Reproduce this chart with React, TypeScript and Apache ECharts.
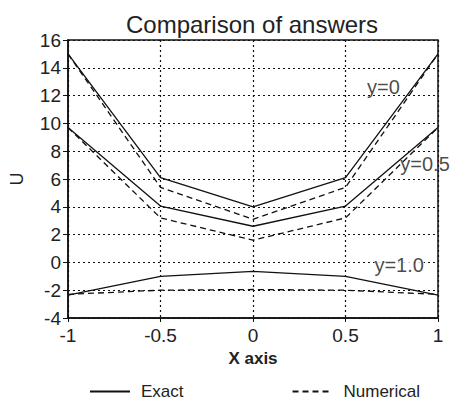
import React, { useEffect, useRef } from "react";
import * as echarts from "echarts";

const xValues = [-1, -0.5, 0, 0.5, 1];
const exactY0 = [15, 6.1, 4.0, 6.1, 15];
const numericalY0 = [15, 5.4, 3.1, 5.4, 15];
const exactY05 = [9.7, 4.05, 2.6, 4.05, 9.7];
const numericalY05 = [9.7, 3.2, 1.6, 3.2, 9.7];
const exactY1 = [-2.35, -1.0, -0.65, -1.0, -2.35];
const numericalY1 = [-2.3, -2.0, -1.95, -2.0, -2.3];

const curveLabels = ["y=0", "y=0.5", "y=1.0"];
const curveLabelPos = [
  [0.705, 12.6],
  [0.93, 7.1],
  [0.79, -0.2],
];

const FONT = "'Liberation Sans', Arial, sans-serif";

const pairs = (ys: number[]) => xValues.map((x, i) => [x, ys[i]]);

export default function App() {
  const ref = useRef<HTMLDivElement>(null);
  useEffect(() => {
    if (!ref.current) return;
    const chart = echarts.init(ref.current, undefined, { renderer: "svg" });
    const lineBase = (name: string, ys: number[], dashed: boolean) => ({
      type: "line",
      name,
      data: pairs(ys),
      symbol: "none",
      lineStyle: { color: "#111", width: 1.3, type: dashed ? [6, 4] : "solid" },
      itemStyle: { color: "#111" },
    });
    chart.setOption({
      animation: false,
      backgroundColor: "#fff",
      textStyle: { fontFamily: FONT },
      title: {
        text: "Comparison of answers",
        left: 121,
        top: 7,
        textStyle: { fontFamily: FONT, fontSize: 24, fontWeight: "normal", color: "#222" },
      },
      grid: {
        left: 61,
        right: 17,
        top: 40,
        bottom: 83,
        show: true,
        borderColor: "#111",
        borderWidth: 1.5,
      },
      legend: {
        data: ["Exact", "Numerical"],
        left: 84,
        top: 378,
        itemWidth: 40,
        itemHeight: 10,
        itemGap: 108,
        itemStyle: { opacity: 0 },
        textStyle: {
          fontFamily: FONT,
          fontSize: 17,
          color: "#222",
          padding: [0, 0, 0, 6],
        },
      },
      xAxis: {
        type: "value",
        min: -1,
        max: 1,
        interval: 0.5,
        name: "X axis",
        nameLocation: "middle",
        nameGap: 28,
        nameTextStyle: { fontFamily: FONT, fontSize: 17, fontWeight: "bold", color: "#222" },
        axisLine: { onZero: false, lineStyle: { color: "#111", width: 1.5 } },
        axisTick: { show: true, length: 4, lineStyle: { color: "#111" } },
        axisLabel: { fontFamily: FONT, fontSize: 19, color: "#222", margin: 8 },
        splitLine: { show: true, lineStyle: { color: "#111", type: [2, 3], width: 1.2 } },
      },
      yAxis: {
        type: "value",
        min: -4,
        max: 16,
        interval: 2,
        name: "U",
        nameLocation: "middle",
        nameGap: 42,
        nameRotate: 90,
        nameTextStyle: { fontFamily: FONT, fontSize: 18, color: "#222" },
        axisLine: { show: true, onZero: false, lineStyle: { color: "#111", width: 1.5 } },
        axisTick: { show: true, length: 5, lineStyle: { color: "#111" } },
        axisLabel: { fontFamily: FONT, fontSize: 19, color: "#222", margin: 7 },
        splitLine: { show: true, lineStyle: { color: "#111", type: [2, 3], width: 1.2 } },
      },
      series: [
        lineBase("Exact", exactY0, false),
        lineBase("Exact", exactY05, false),
        lineBase("Exact", exactY1, false),
        lineBase("Numerical", numericalY0, true),
        lineBase("Numerical", numericalY05, true),
        lineBase("Numerical", numericalY1, true),
        {
          type: "scatter",
          name: "labels",
          symbolSize: 0,
          silent: true,
          data: curveLabels.map((t, i) => ({
            name: t,
            value: curveLabelPos[i],
            label: i === 2 ? { backgroundColor: "#fff" } : {},
          })),
          label: {
            show: true,
            position: "inside",
            formatter: "{b}",
            fontFamily: FONT,
            fontSize: 20,
            color: "#1a1a1a",
          },
        },
      ],
    });
    return () => chart.dispose();
  }, []);
  return (
    <div
      ref={ref}
      style={{ position: "fixed", left: 0, top: 0, width: 455, height: 401, background: "#fff" }}
    />
  );
}
